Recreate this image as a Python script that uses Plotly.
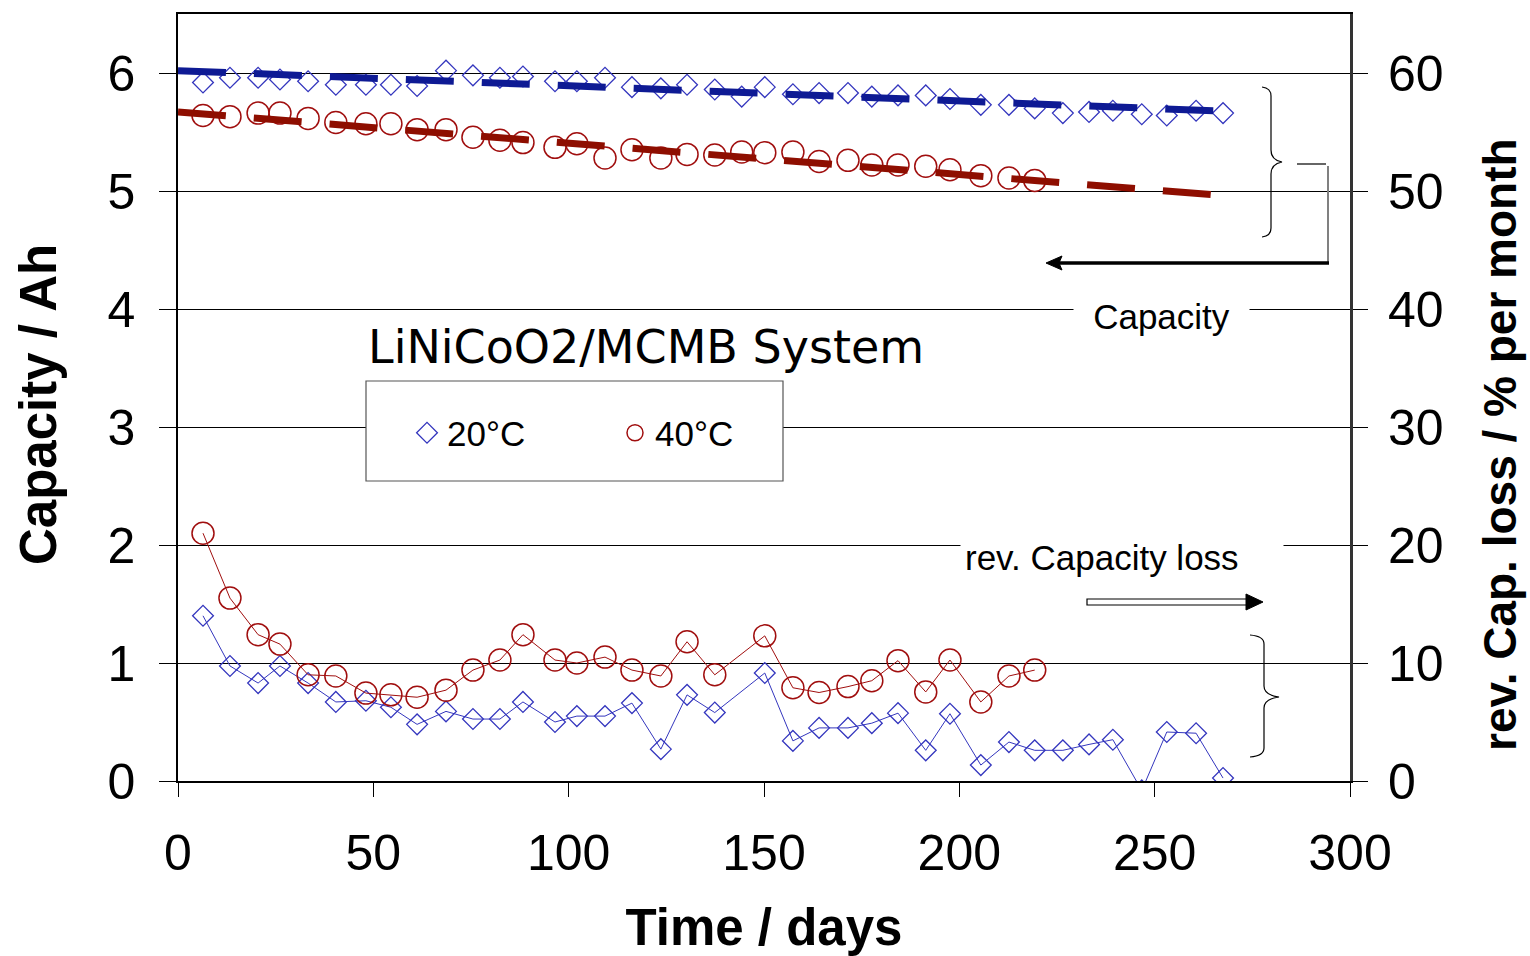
import plotly.graph_objects as go

# ---------------- data ----------------
days = [6.4, 13.3, 20.5, 26.1, 33.3, 40.4, 48.1, 54.5, 61.2, 68.6, 75.5, 82.4, 88.3,
        96.5, 102.1, 109.3, 116.2, 123.6, 130.3, 137.4, 144.3, 150.2, 157.4, 164.1,
        171.5, 177.6, 184.3, 191.4, 197.6, 205.5, 212.7, 219.3, 226.5, 233.2, 239.3,
        246.7, 253.1, 260.6, 267.5]

cap_20 = [5.92, 5.96, 5.96, 5.945, 5.93, 5.90, 5.90, 5.90, 5.89, 6.02, 5.98, 5.96, 5.97,
          5.93, 5.93, 5.96, 5.88, 5.87, 5.90, 5.86, 5.80, 5.88, 5.82, 5.83, 5.83, 5.80,
          5.81, 5.81, 5.78, 5.73, 5.73, 5.70, 5.66, 5.67, 5.68, 5.65, 5.64, 5.68, 5.66]

cap_40 = [5.64, 5.63, 5.66, 5.66, 5.615, 5.58, 5.57, 5.57, 5.52, 5.52, 5.455, 5.43, 5.41,
          5.37, 5.40, 5.28, 5.35, 5.28, 5.31, 5.305, 5.33, 5.325, 5.33, 5.25, 5.26, 5.22,
          5.22, 5.21, 5.18, 5.13, 5.11, 5.09]

loss_20 = [14.0, 9.75, 8.3, 9.75, 8.3, 6.7, 6.8, 6.25, 4.8, 5.9, 5.25, 5.25, 6.7, 5.0,
           5.5, 5.5, 6.6, 2.7, 7.3, 5.8, None, 9.15, 3.4, 4.5, 4.5, 4.9, 5.75, 2.6, 5.7,
           1.35, 3.3, 2.6, 2.6, 3.1, 3.5, -0.8, 4.15, 4.05, 0.25]

loss_40 = [21.0, 15.5, 12.4, 11.6, 9.0, 8.9, 7.45, 7.3, 7.1, 7.7, 9.4, 10.25, 12.4, 10.25,
           10.0, 10.5, 9.4, 8.9, 11.8, 9.0, None, 12.3, 7.9, 7.5, 8.0, 8.5, 10.2, 7.55,
           10.25, 6.7, 8.9, 9.4]

trend_days = [0, 268]
trend_20 = [6.02, 5.676]
trend_40 = [5.67, 4.96]

x_ticks = [0, 50, 100, 150, 200, 250, 300]
y_ticks = [0, 1, 2, 3, 4, 5, 6]
y2_ticks = [0, 10, 20, 30, 40, 50, 60]

# ---------------- style ----------------
BLUE_M = "#3436BE"
BLUE_T = "#0E1A94"
RED_M = "#A00E0E"
RED_T = "#8E0E00"
SANS = "Liberation Sans, Arial, sans-serif"

W, H = 1530, 956
ML, MR, MT, MB = 178, 180, 14, 175
PW, PH = W - ML - MR, H - MT - MB
XMAX, YMAX, Y2MAX = 300, 6.5, 65
XS = PW / XMAX
YS = PH / YMAX


def dx(p):
    return (p - ML) / XS


def dy(p):
    return (H - MB - p) / YS


def px_x(p):
    return (p - ML) / PW


def px_y(p):
    return (H - MB - p) / PH


def path(cmds):
    out = []
    for c in cmds:
        if isinstance(c, str):
            out.append(c)
        else:
            out.append(f"{dx(c[0]):.4f},{dy(c[1]):.4f}")
    return " ".join(out)


fig = go.Figure()

fig.add_trace(go.Scatter(x=days[:len(cap_20)], y=cap_20, mode="markers", name="20°C",
                         marker=dict(symbol="diamond-open", size=16, color=BLUE_M,
                                     line=dict(width=1.3, color=BLUE_M))))
fig.add_trace(go.Scatter(x=days[:len(cap_40)], y=cap_40, mode="markers", name="40°C",
                         marker=dict(symbol="circle-open", size=22, color=RED_M,
                                     line=dict(width=1.5, color=RED_M))))
fig.add_trace(go.Scatter(x=trend_days, y=trend_20, mode="lines", showlegend=False,
                         line=dict(color=BLUE_T, width=7, dash="48px,28px")))
fig.add_trace(go.Scatter(x=trend_days, y=trend_40, mode="lines", showlegend=False,
                         line=dict(color=RED_T, width=7, dash="48px,28px")))
fig.add_trace(go.Scatter(x=days[:len(loss_20)], y=loss_20, mode="lines+markers",
                         yaxis="y2", showlegend=False, connectgaps=True,
                         line=dict(color=BLUE_M, width=1),
                         marker=dict(symbol="diamond-open", size=16, color=BLUE_M,
                                     line=dict(width=1.3, color=BLUE_M))))
fig.add_trace(go.Scatter(x=days[:len(loss_40)], y=loss_40, mode="lines+markers",
                         yaxis="y2", showlegend=False, connectgaps=True,
                         line=dict(color=RED_M, width=1),
                         marker=dict(symbol="circle-open", size=22, color=RED_M,
                                     line=dict(width=1.5, color=RED_M))))

shapes = []
# legend box
shapes.append(dict(type="rect", xref="x", yref="y", x0=dx(366), x1=dx(783),
                   y0=dy(381), y1=dy(481), fillcolor="white",
                   line=dict(color="#555555", width=1.2), layer="above"))
# brace for capacity
shapes.append(dict(type="path", xref="x", yref="y", layer="above",
                   line=dict(color="black", width=1.2),
                   path=path(["M", (1262, 87), "Q", (1271, 88), (1271, 96), "L", (1271, 150),
                              "Q", (1271, 160), (1282, 162), "Q", (1271, 164), (1271, 174),
                              "L", (1271, 228), "Q", (1271, 236), (1262, 237)])))
# brace for capacity loss
shapes.append(dict(type="path", xref="x", yref="y", layer="above",
                   line=dict(color="black", width=1.2),
                   path=path(["M", (1250, 635), "Q", (1264, 636), (1264, 644), "L", (1264, 686),
                              "Q", (1264, 695), (1279, 697), "Q", (1264, 699), (1264, 708),
                              "L", (1264, 748), "Q", (1264, 756), (1250, 757)])))
# capacity connector + arrow
shapes.append(dict(type="line", xref="x", yref="y", x0=dx(1297), x1=dx(1326),
                   y0=dy(164), y1=dy(164), line=dict(color="black", width=1.2), layer="above"))
shapes.append(dict(type="line", xref="x", yref="y", x0=dx(1328), x1=dx(1328),
                   y0=dy(166), y1=dy(264), line=dict(color="#808080", width=2), layer="above"))
shapes.append(dict(type="line", xref="x", yref="y", x0=dx(1329), x1=dx(1058),
                   y0=dy(263), y1=dy(263), line=dict(color="black", width=3.5), layer="above"))
shapes.append(dict(type="path", xref="x", yref="y", layer="above", fillcolor="black",
                   line=dict(color="black", width=1),
                   path=path(["M", (1046, 263), "L", (1062, 256), "L", (1059, 263),
                              "L", (1062, 270), "Z"])))
# hollow arrow for capacity loss
shapes.append(dict(type="path", xref="x", yref="y", layer="above", fillcolor="white",
                   line=dict(color="black", width=1.2),
                   path=path(["M", (1087, 599), "L", (1248, 599), "L", (1248, 605),
                              "L", (1087, 605), "Z"])))
shapes.append(dict(type="path", xref="x", yref="y", layer="above", fillcolor="black",
                   line=dict(color="black", width=1),
                   path=path(["M", (1246, 594), "L", (1263, 602), "L", (1246, 610), "Z"])))

annotations = [
    dict(text="LiNiCoO2/MCMB System", x=dx(366), y=dy(347), xref="x", yref="y",
         xanchor="left", yanchor="middle", showarrow=False,
         font=dict(family="DejaVu Sans, Verdana, sans-serif", size=46, color="black")),
    dict(text="Capacity", x=dx(1161), y=dy(316), xref="x", yref="y",
         xanchor="center", yanchor="middle", showarrow=False, bgcolor="white",
         width=167, borderpad=4, font=dict(family=SANS, size=35, color="black")),
    dict(text="rev. Capacity loss", x=dx(960), y=dy(557), xref="x", yref="y",
         xanchor="left", yanchor="middle", showarrow=False, bgcolor="white",
         width=314, borderpad=4, align="left",
         font=dict(family=SANS, size=35, color="black")),
    # axis titles (placed as rotated text)
    dict(text="<b>Capacity / Ah</b>", x=px_x(38), y=px_y(405), xref="paper", yref="paper",
         xanchor="center", yanchor="middle", textangle=-90, showarrow=False,
         font=dict(family=SANS, size=51, color="black")),
    dict(text="<b>rev. Cap. loss / % per month</b>", x=px_x(1500), y=px_y(445),
         xref="paper", yref="paper", xanchor="center", yanchor="middle", textangle=-90,
         showarrow=False, font=dict(family=SANS, size=46, color="black")),
]

fig.update_layout(
    width=W, height=H,
    margin=dict(l=ML, r=MR, t=MT, b=MB, autoexpand=False),
    paper_bgcolor="white", plot_bgcolor="white",
    font=dict(family=SANS, color="black"),
    shapes=shapes, annotations=annotations,
    showlegend=True,
    legend=dict(orientation="h", x=px_x(407), y=px_y(433),
                xanchor="left", yanchor="middle", bgcolor="rgba(0,0,0,0)",
                borderwidth=0, entrywidth=163, font=dict(family=SANS, size=35, color="black")),
    xaxis=dict(range=[0, XMAX], tickvals=x_ticks, ticks="outside", ticklen=14,
               tickcolor="black", tickwidth=1.2, showline=True, linecolor="black",
               linewidth=1.5, mirror=True, showgrid=False, zeroline=False,
               tickfont=dict(family=SANS, size=50), ticklabelstandoff=13,
               title=dict(text="Time / days", standoff=30,
                          font=dict(family=SANS, size=51, weight="bold"))),
    yaxis=dict(range=[0, YMAX], tickvals=y_ticks, ticks="outside", ticklen=17,
               tickcolor="black", tickwidth=1.2, showline=True, linecolor="black",
               linewidth=1.5, showgrid=True, gridcolor="black", gridwidth=1,
               zeroline=False, tickfont=dict(family=SANS, size=50), ticklabelstandoff=14),
    yaxis2=dict(range=[0, Y2MAX], tickvals=y2_ticks, overlaying="y", side="right",
                ticks="outside", ticklen=15, tickcolor="black", tickwidth=1.2,
                showline=True, linecolor="#333333", linewidth=3, showgrid=False,
                zeroline=False, tickfont=dict(family=SANS, size=50), ticklabelstandoff=10),
)

fig.write_html("out.html")
